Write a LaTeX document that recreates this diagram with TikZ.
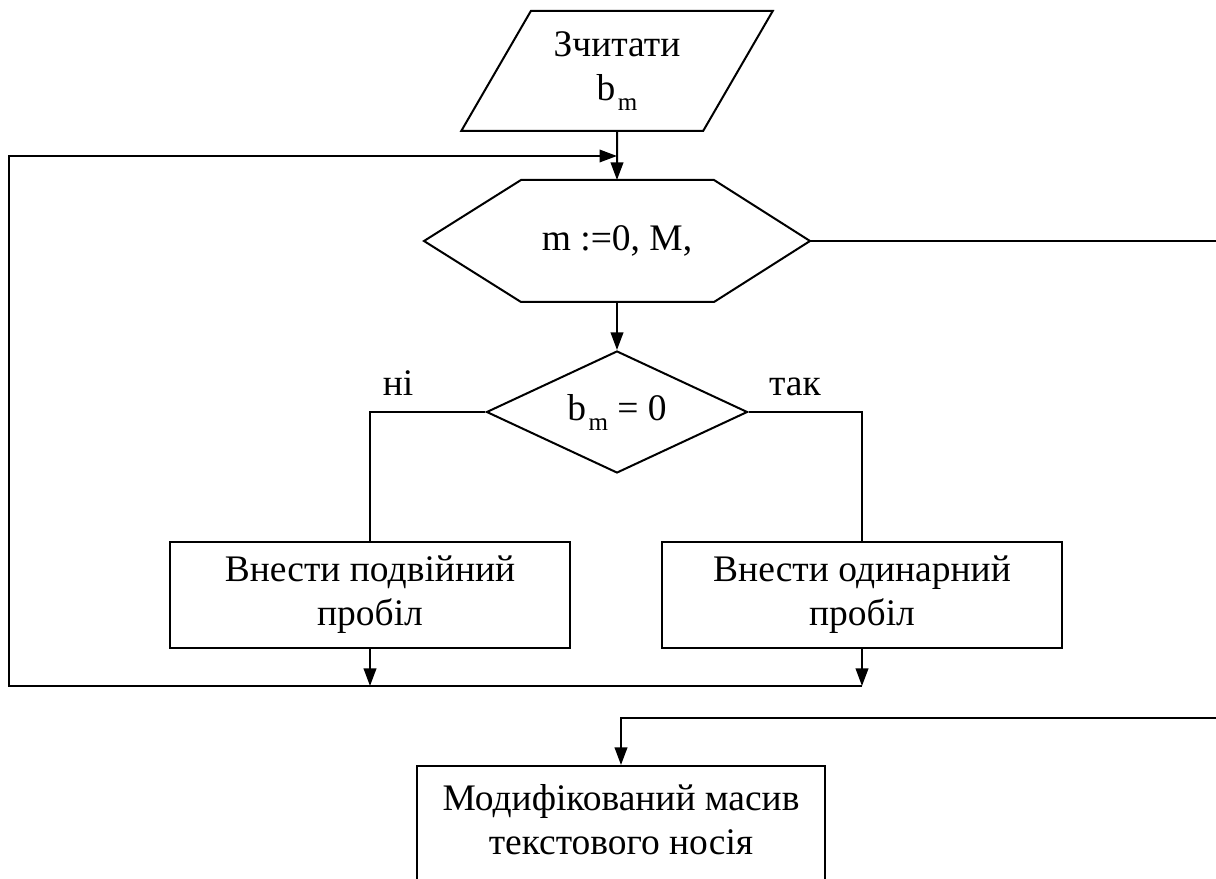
\documentclass[tikz,border=0pt]{standalone}
\usepackage{fontspec}
\setmainfont{Liberation Serif}
\usetikzlibrary{arrows.meta,shapes.geometric}
\newcommand{\bsub}{b\kern1pt\raisebox{-4pt}{\fontsize{10}{12}\selectfont m}}

\begin{document}
\begin{tikzpicture}[x=0.4pt, y=-0.4pt, line width=0.8pt,
    font=\fontsize{15}{17.6}\selectfont,
    arr/.style={-{Triangle[length=7pt, width=5pt]}},
    block/.style={draw, rectangle, align=center, inner sep=0pt}]
  \useasboundingbox (0,0) rectangle (1216,879);
  % input
  \node[draw, trapezium, trapezium left angle=57, trapezium right angle=123,
        trapezium stretches=true, minimum width=124.8pt, minimum height=48pt,
        align=center, inner sep=0pt] (inp) at (617,71) {Зчитати\\\bsub};
  % loop head
  \node[minimum width=153.6pt, minimum height=48pt, inner sep=0pt] (hex) at (617,241) {m :=0, M,};
  \draw (hex.west) -- ([xshift=38.8pt]hex.north west) -- ([xshift=-38.4pt]hex.north east)
     -- (hex.east) -- ([xshift=-38.4pt]hex.south east) -- ([xshift=38.8pt]hex.south west) -- cycle;
  \node[draw, diamond, aspect=2.15, minimum width=104.4pt, minimum height=48.8pt, inner sep=0pt] (cond) at (617,412) {\bsub{} = 0};
  \node[block, minimum width=160pt, minimum height=42.4pt] (dbl) at (370,595) {Внести подвійний\\пробіл};
  \node[block, minimum width=160pt, minimum height=42.4pt] (sgl) at (862,595) {Внести одинарний\\пробіл};
  \node[block, minimum width=163.2pt, minimum height=65.6pt] (res) at (621,848) {Модифікований масив\\текстового носія\\\strut};
  \node[anchor=base] (no) at (398,396) {ні};
  \node[anchor=base] (yes) at (795,396) {так};

  \coordinate (j1) at (370,686);
  \coordinate (j2) at (862,686);
  \coordinate (c1) at (9,686);
  \coordinate (loop) at (617,156);
  \coordinate (out1) at (1216,241);
  \coordinate (out2) at (1216,718);

  \draw[arr] (inp.south) -- (hex.north);
  \draw[arr] (hex.south) -- (cond.north);
  \draw (cond.west) -| (dbl.north);
  \draw (cond.east) -| (sgl.north);
  \draw[arr] (dbl.south) -- (j1);
  \draw[arr] (sgl.south) -- (j2);
  \draw[arr] (j2) -- (c1) |- (loop);
  \draw (hex.east) -- (out1);
  \draw[arr] (out2) -| (res.north);
\end{tikzpicture}
\end{document}
